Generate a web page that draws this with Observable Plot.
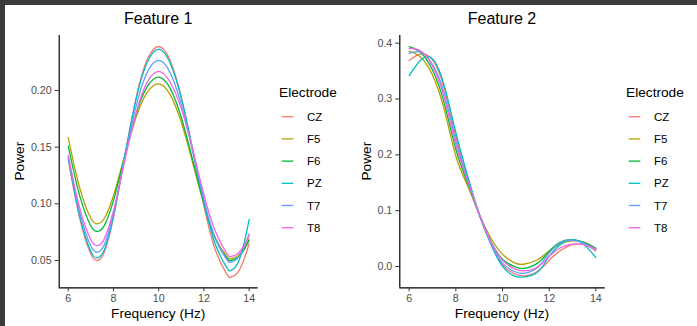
<!DOCTYPE html>
<html><head><meta charset="utf-8">
<script src="https://cdn.jsdelivr.net/npm/d3@7"></script>
<script src="https://cdn.jsdelivr.net/npm/@observablehq/plot@0.6"></script>
<style>
html,body{margin:0;padding:0;background:#3b3b3b;width:697px;height:326px;overflow:hidden;font-family:"Liberation Sans",Arial,sans-serif;}
#wrap{position:absolute;left:5px;top:5px;width:692px;height:321px;background:#fff;}
#wrap svg{position:absolute;top:0;}
</style></head><body><div id="wrap"></div>
<script>
// ---- data ----
const electrodes = ["CZ","F5","F6","PZ","T7","T8"];
const colors = ["#F8766D","#B79F00","#00BA38","#00BFC4","#619CFF","#F564E3"];
const xTicks = [6, 8, 10, 12, 14];
const yTicks1 = [0.05, 0.10, 0.15, 0.20];
const yTicks2 = [0.0, 0.1, 0.2, 0.3, 0.4];
const titles = ["Feature 1", "Feature 2"];
const xLabel = "Frequency (Hz)";
const yLabel = "Power";
const legendTitle = "Electrode";

// Feature 1
const freq1 = [6, 6.5, 7, 7.3, 7.6, 8, 8.4, 9, 9.5, 10, 10.5, 11, 11.5, 12, 12.5, 13, 13.2, 13.5, 13.8, 14];
const cz1 = [0.139, 0.0878, 0.0557, 0.050, 0.0576, 0.0878, 0.1312, 0.1935, 0.2275, 0.2388, 0.2266, 0.1940, 0.1472, 0.0984, 0.0597, 0.0384, 0.0353, 0.0396, 0.0523, 0.0647];
const f5_1 = [0.1583, 0.1147, 0.0873, 0.0824, 0.0873, 0.1071, 0.1355, 0.1763, 0.1985, 0.2059, 0.1966, 0.1719, 0.1364, 0.0994, 0.0700, 0.0538, 0.0515, 0.0541, 0.0616, 0.069];
const f6_1 = [0.1509, 0.1076, 0.0804, 0.0756, 0.0810, 0.1028, 0.1342, 0.1791, 0.2036, 0.2118, 0.2021, 0.1762, 0.1390, 0.1002, 0.0694, 0.0524, 0.050, 0.0526, 0.0602, 0.0676];
const pz1 = [0.1405, 0.0898, 0.0580, 0.0524, 0.0598, 0.0892, 0.1314, 0.1921, 0.2252, 0.2362, 0.2245, 0.1933, 0.1485, 0.1017, 0.0646, 0.0441, 0.0412, 0.0478, 0.0672, 0.0862];
const t7_1 = [0.1415, 0.0931, 0.0627, 0.0573, 0.0641, 0.0911, 0.1301, 0.1859, 0.2163, 0.2265, 0.2158, 0.1873, 0.1464, 0.1037, 0.0699, 0.0512, 0.0485, 0.0522, 0.0629, 0.0735];
const t8_1 = [0.1426, 0.0969, 0.0683, 0.0632, 0.0693, 0.0939, 0.1292, 0.1799, 0.2076, 0.2168, 0.2075, 0.1840, 0.1480, 0.1080, 0.0760, 0.0565, 0.0535, 0.0562, 0.0642, 0.072];

// Feature 2
const freq2 = [6, 6.5, 7, 7.5, 8, 8.5, 9, 9.5, 10, 10.5, 10.9, 11.5, 12, 12.5, 13, 13.5, 14];
const cz2 = [0.369, 0.381, 0.370, 0.320, 0.233, 0.160, 0.094, 0.041, 0.003, -0.013, -0.0167, -0.009, 0.011, 0.029, 0.039, 0.039, 0.028];
const f5_2 = [0.386, 0.375, 0.343, 0.282, 0.198, 0.145, 0.094, 0.051, 0.022, 0.007, 0.004, 0.012, 0.028, 0.041, 0.046, 0.043, 0.033];
const f6_2 = [0.3937, 0.383, 0.352, 0.293, 0.210, 0.150, 0.093, 0.045, 0.013, 0.000, -0.0036, 0.006, 0.027, 0.044, 0.048, 0.043, 0.032];
const pz2 = [0.3417, 0.370, 0.372, 0.325, 0.240, 0.163, 0.094, 0.040, 0.000, -0.017, -0.019, -0.010, 0.018, 0.040, 0.048, 0.039, 0.016];
const t7_2 = [0.3817, 0.384, 0.362, 0.310, 0.225, 0.156, 0.093, 0.042, 0.006, -0.009, -0.0125, -0.002, 0.024, 0.043, 0.047, 0.042, 0.031];
const t8_2 = [0.3907, 0.386, 0.359, 0.303, 0.218, 0.155, 0.095, 0.045, 0.011, -0.004, -0.008, -0.001, 0.018, 0.034, 0.040, 0.039, 0.030];

// ---- build ----
const series1 = [cz1, f5_1, f6_1, pz1, t7_1, t8_1];
const series2 = [cz2, f5_2, f6_2, pz2, t7_2, t8_2];
function rows(freq, series) {
  return electrodes.flatMap((e, i) => freq.map((f, j) => ({f, v: series[i][j], e})));
}
const FONT = '"Liberation Sans", Arial, sans-serif';
const xDomain = [5.6, 14.4];

function panel(data, yDomain, yTicks, yFmt, width, marginLeft) {
  return Plot.plot({
    width, height: 316,
    marginTop: 30, marginBottom: 33.7, marginLeft, marginRight: width - marginLeft - (panelW(marginLeft, width)),
    style: {fontFamily: FONT, fontSize: "10.7px", background: "transparent", overflow: "visible"},
    x: {domain: xDomain, label: null},
    y: {domain: yDomain, label: null},
    color: {domain: electrodes, range: colors},
    marks: [
      Plot.line(data, {x: "f", y: "v", stroke: "e", curve: "natural", strokeWidth: 1.3}),
      Plot.ruleX([xDomain[0]], {stroke: "#000", strokeWidth: 1.2}),
      Plot.ruleY([yDomain[0]], {stroke: "#000", strokeWidth: 1.2}),
      Plot.axisX({ticks: xTicks, tickSize: 4, tickPadding: 3, label: null, stroke: "#333", fill: "#4d4d4d"}),
      Plot.axisY({ticks: yTicks, tickFormat: yFmt, tickSize: 4, tickPadding: 3.5, label: null, stroke: "#333", fill: "#4d4d4d"})
    ]
  });
}
const frameW = [199, 205.4];
function panelW(ml, w) { return ml === 53.7 ? frameW[0] : frameW[1]; }

const wrap = document.getElementById("wrap");
const p1 = panel(rows(freq1, series1), [0.0259, 0.2485], yTicks1, d3.format(".2f"), 270, 53.7);
p1.style.left = "0px";
wrap.appendChild(p1);
const p2 = panel(rows(freq2, series2), [-0.0382, 0.4138], yTicks2, d3.format(".1f"), 280, 54.3);
p2.style.left = "340px";
wrap.appendChild(p2);

// ---- overlay: titles, axis titles, legends ----
const ov = d3.create("svg").attr("width", 692).attr("height", 321)
  .style("left", "0px").style("font-family", FONT);
const panels = [
  {cx: 153.2, powerX: 18.5, legX: 274},
  {cx: 497, powerX: 366, legX: 621}
];
panels.forEach((p, k) => {
  ov.append("text").attr("x", p.cx).attr("y", 19).attr("text-anchor", "middle")
    .attr("font-size", 16).attr("fill", "#000").text(titles[k]);
  ov.append("text").attr("x", p.cx).attr("y", 313).attr("text-anchor", "middle")
    .attr("font-size", 13.7).attr("fill", "#000").text(xLabel);
  ov.append("text").attr("transform", `translate(${p.powerX},156.2) rotate(-90)`)
    .attr("text-anchor", "middle").attr("font-size", 13.7).attr("fill", "#000").text(yLabel);
  const g = ov.append("g").attr("transform", `translate(${p.legX},0)`);
  g.append("text").attr("x", 0).attr("y", 92).attr("font-size", 13.7).attr("fill", "#000").text(legendTitle);
  electrodes.forEach((e, i) => {
    const y = 111.7 + i * 22.2;
    g.append("line").attr("x1", 2.7).attr("x2", 14.3).attr("y1", y).attr("y2", y)
      .attr("stroke", colors[i]).attr("stroke-width", 1.3);
    g.append("text").attr("x", 28).attr("y", y).attr("dy", "0.36em")
      .attr("font-size", 11.5).attr("fill", "#000").text(e);
  });
});
wrap.appendChild(ov.node());
</script>
</body></html>
